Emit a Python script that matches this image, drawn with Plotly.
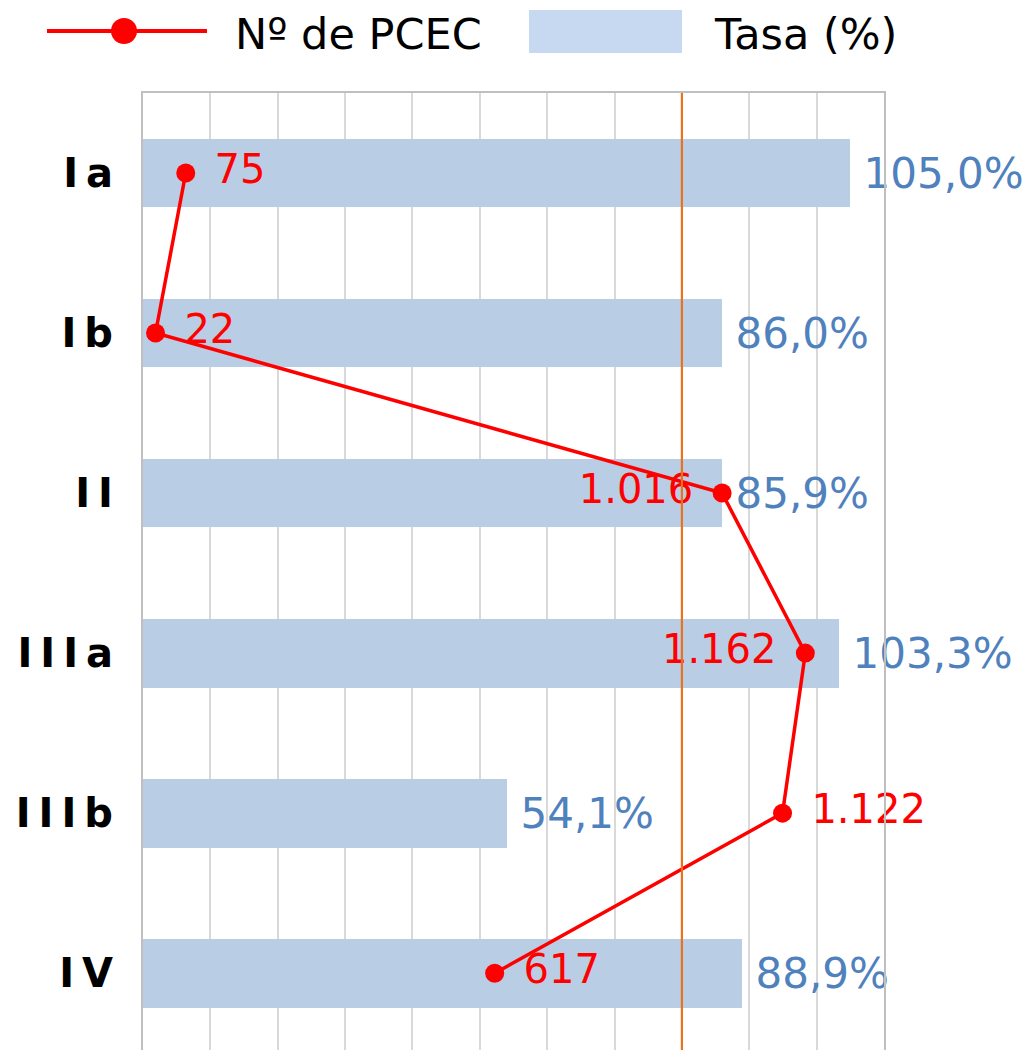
import plotly.graph_objects as go

# Categories (top to bottom) and series
categorias = ["Ia", "Ib", "II", "IIIa", "IIIb", "IV"]
tasa = [105.0, 86.0, 85.9, 103.3, 54.1, 88.9]          # Tasa (%)
n_pcec = [75, 22, 1016, 1162, 1122, 617]                # Nº de PCEC
pos_etiquetas = ["middle right", "middle right", "middle left",
                 "middle left", "middle right", "middle right"]
objetivo = 80.0                                          # reference line (%)

W, H = 1027, 1050
L, R, T, B = 143, 884, 93, 1050   # plot area in pixels


def px_x(p):
    return (p - L) / (R - L)


def px_y(p):
    return (B - p) / (B - T)


FONT = "DejaVu Sans"
ROJO = "#ff0000"
AZUL_BARRA = "#b9cde5"
AZUL_LEYENDA = "#c6d9f0"
AZUL_TEXTO = "#4f81bd"

txt_tasa = ["\u2005" + f"{v:.1f}".replace(".", ",") + "%" for v in tasa]
txt_pcec = []
for v, p in zip(n_pcec, pos_etiquetas):
    s = f"{v:,}".replace(",", ".")
    txt_pcec.append("\u2009\u2009" + s if "right" in p else s + "\u2009\u2009")

fig = go.Figure()

fig.add_trace(go.Bar(
    x=tasa, y=categorias, orientation="h",
    marker=dict(color=AZUL_BARRA, line=dict(width=0)),
    width=0.43,
    text=txt_tasa, textposition="outside", constraintext="none",
    cliponaxis=False,
    textfont=dict(family=FONT, size=42, color=AZUL_TEXTO),
    name="Tasa (%)", showlegend=False,
))

fig.add_trace(go.Scatter(
    x=n_pcec, y=categorias, xaxis="x2",
    mode="lines+markers+text",
    line=dict(color=ROJO, width=3.5),
    marker=dict(color=ROJO, size=19),
    text=txt_pcec, textposition=pos_etiquetas,
    textfont=dict(family=FONT, size=40, color=ROJO),
    cliponaxis=False,
    name="Nº de PCEC", showlegend=False,
))

shapes = [
    # 80 % reference line
    dict(type="line", xref="x", yref="paper", x0=objetivo, x1=objetivo,
         y0=0, y1=1, line=dict(color="#e8731a", width=2.2), layer="above"),
    # legend: line with marker
    dict(type="line", xref="paper", yref="paper",
         x0=px_x(47), x1=px_x(207), y0=px_y(31), y1=px_y(31),
         line=dict(color=ROJO, width=4)),
    dict(type="circle", xref="paper", yref="paper",
         x0=px_x(111), x1=px_x(137), y0=px_y(44), y1=px_y(18),
         fillcolor=ROJO, line=dict(color=ROJO, width=0)),
    # legend: bar swatch
    dict(type="rect", xref="paper", yref="paper",
         x0=px_x(529), x1=px_x(682), y0=px_y(53), y1=px_y(10),
         fillcolor=AZUL_LEYENDA, line=dict(width=0)),
]

annotations = [
    dict(text="Nº de PCEC", xref="paper", yref="paper", x=px_x(233), y=px_y(34),
         xanchor="left", yanchor="middle", showarrow=False,
         font=dict(family=FONT, size=43, color="#000000")),
    dict(text="Tasa (%)", xref="paper", yref="paper", x=px_x(712), y=px_y(34),
         xanchor="left", yanchor="middle", showarrow=False,
         font=dict(family=FONT, size=43, color="#000000")),
]

fig.update_layout(
    width=W, height=H,
    margin=dict(l=L, r=W - R, t=T, b=H - B),
    paper_bgcolor="white", plot_bgcolor="white",
    showlegend=False,
    bargap=0,
    shapes=shapes,
    annotations=annotations,
    xaxis=dict(
        range=[0, 110], dtick=10, showgrid=True,
        gridcolor="#d9d9d9", gridwidth=2,
        showticklabels=False, zeroline=False, showline=False, ticks="",
    ),
    xaxis2=dict(
        range=[0, 1300], overlaying="x", side="top", anchor="y",
        showgrid=False, showticklabels=False, zeroline=False, ticks="",
        showline=True, linecolor="#bfbfbf", linewidth=2,
    ),
    yaxis=dict(
        type="category", categoryorder="array", categoryarray=categorias,
        range=[5.48, -0.5],
        tickmode="array", tickvals=categorias,
        ticktext=["\u2009".join(c) for c in categorias],
        tickfont=dict(family=FONT, size=40, color="#000000", weight="bold"),
        ticklabelstandoff=20,
        showgrid=False, zeroline=False, ticks="",
        showline=True, mirror=True, linecolor="#bfbfbf", linewidth=2,
    ),
)

fig.write_html("out.html")
